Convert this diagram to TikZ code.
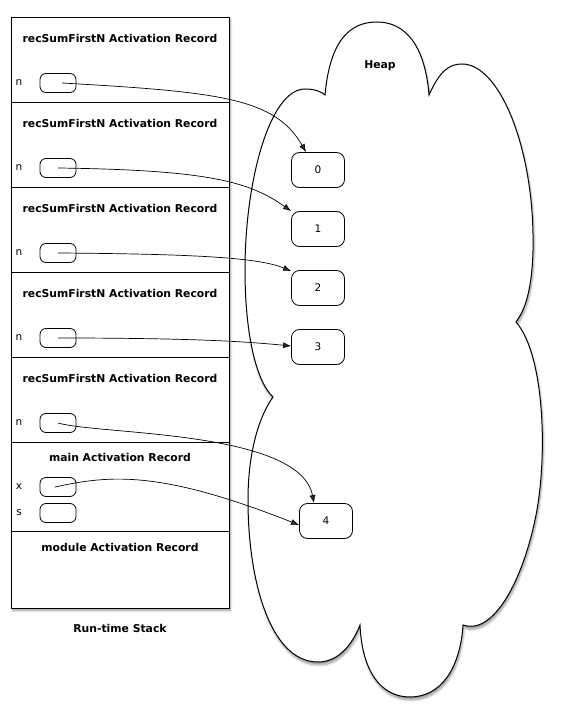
\documentclass[tikz,border=0pt]{standalone}
\usepackage{fontspec}
\setmainfont{DejaVu Sans}
\usetikzlibrary{arrows.meta,shadows.blur}
\tikzset{
  title/.style={font=\bfseries\fontsize{10.8}{12}\selectfont, inner sep=0pt},
  lbl/.style={font=\fontsize{10.5}{12}\selectfont, inner sep=0pt},
  varbox/.style={draw, rounded corners=6pt, minimum width=36pt, minimum height=19pt, inner sep=0pt, line width=0.8pt},
  heapbox/.style={draw, fill=white, rounded corners=8pt, minimum width=53pt, minimum height=35pt, inner sep=0pt, line width=0.8pt, font=\fontsize{10.5}{12}\selectfont},
  ptr/.style={-{Latex[length=8pt,width=6pt]}, line width=0.7pt},
  divider/.style={line width=0.8pt},
}
\begin{document}
\begin{tikzpicture}[x=1pt,y=-1pt]
\useasboundingbox (0,0) rectangle (565,727);
% stack
\draw[line width=0.9pt, fill=white, blur shadow={shadow xshift=1.5pt, shadow yshift=-2.5pt, shadow blur steps=6}] (11,17) rectangle (229,608);
\foreach \yy in {102,187,272,357,442,531} \draw[divider] (11,\yy) -- (229,\yy);
\node[title] (t1) at (120,38) {recSumFirstN Activation Record};
\node[title] (t2) at (120,123) {recSumFirstN Activation Record};
\node[title] (t3) at (120,208) {recSumFirstN Activation Record};
\node[title] (t4) at (120,293) {recSumFirstN Activation Record};
\node[title] (t5) at (120,378) {recSumFirstN Activation Record};
\node[title] (tm) at (120,457) {main Activation Record};
\node[title] (tmod) at (120,547) {module Activation Record};
\node[title] (rts) at (120,628) {Run-time Stack};
% variables
\foreach \i/\yy in {1/83,2/168,3/253,4/338,5/423} {
  \node[lbl] (ln\i) at (19,\yy) {n};
  \node[varbox] (n\i) at (58,\yy) {};
}
\node[lbl] (lx) at (19,487) {x};
\node[varbox] (vx) at (58,487) {};
\node[lbl] (ls) at (19,513) {s};
\node[varbox] (vs) at (58,513) {};
% heap cloud
\draw[line width=1pt, fill=white, blur shadow={shadow xshift=1pt, shadow yshift=-3pt, shadow blur steps=6}]
  (325,95) .. controls (330,40) and (350,22) .. (377,22)
  .. controls (405,22) and (425,45) .. (429,95)
  .. controls (440,70) and (450,64) .. (462,64)
  .. controls (500,64) and (535,150) .. (533,250)
  .. controls (532,290) and (525,310) .. (516,322)
  .. controls (545,355) and (548,460) .. (535,520)
  .. controls (520,590) and (490,635) .. (463,625)
  .. controls (460,670) and (440,697) .. (410,697)
  .. controls (380,697) and (362,670) .. (360,625)
  .. controls (350,650) and (335,662) .. (318,662)
  .. controls (270,662) and (248,580) .. (248,500)
  .. controls (248,450) and (260,415) .. (273,397)
  .. controls (255,380) and (245,330) .. (245,270)
  .. controls (245,180) and (270,89) .. (305,89)
  .. controls (315,89) and (322,92) .. (325,95) -- cycle;
\node[title] (heap) at (380,66) {Heap};
% heap values
\node[heapbox] (h0) at (318,170) {0};
\node[heapbox] (h1) at (318,229) {1};
\node[heapbox] (h2) at (318,288) {2};
\node[heapbox] (h3) at (318,347) {3};
\node[heapbox] (h4) at (326,521) {4};
% pointers
\draw[ptr] ([xshift=4pt]n1.center) .. controls (220,92) and (275,98) .. ([xshift=-12pt]h0.north);
\draw[ptr] (n2.center) .. controls (210,170) and (250,182) .. (h1.north west);
\draw[ptr] (n3.center) .. controls (200,254) and (260,258) .. ([yshift=-1pt]h2.north west);
\draw[ptr] (n4.center) .. controls (200,338) and (250,342) .. ([yshift=1pt]h3.west);
\draw[ptr] (n5.center) .. controls (100,435) and (300,430) .. ([xshift=-12pt]h4.north);
\draw[ptr] ([xshift=-3pt]vx.center) .. controls (110,475) and (160,470) .. ([yshift=-4pt]h4.west);
\end{tikzpicture}
\end{document}
